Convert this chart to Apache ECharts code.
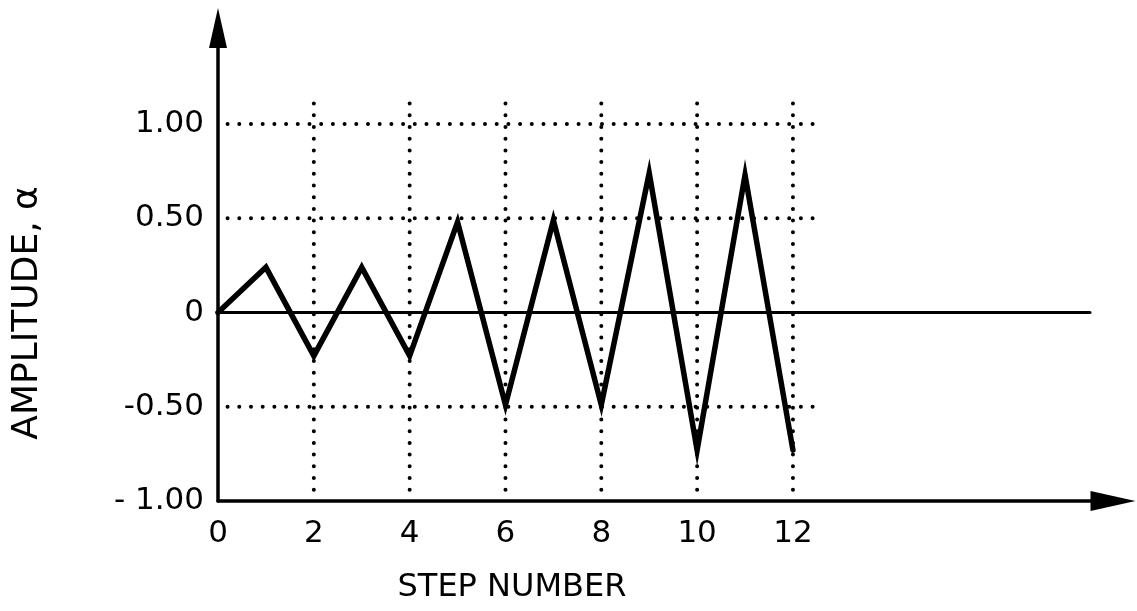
<!DOCTYPE html>
<html>
<head>
<meta charset="utf-8">
<script src="https://cdn.jsdelivr.net/npm/echarts@6/dist/echarts.min.js"></script>
<style>html,body{margin:0;padding:0;background:#fff;}#c{width:1137px;height:611px;}</style>
</head>
<body>
<div id="c"></div>
<script>
// Data
var steps = [0, 1, 2, 3, 4, 5, 6, 7, 8, 9, 10, 11, 12];
var amplitude = [0, 0.24, -0.23, 0.24, -0.23, 0.48, -0.49, 0.49, -0.49, 0.74, -0.73, 0.73, -0.73];
var xTickLabels = ['0', '2', '4', '6', '8', '10', '12'];
var xTickValues = [0, 2, 4, 6, 8, 10, 12];
var yTickValues = [-1, -0.5, 0, 0.5, 1];
var yTickLabels = ['- 1.00', '-0.50', '0', '0.50', '1.00'];
var vGridX = [2, 4, 6, 8, 10, 12];
var vGridRange = [-0.94, 1.14];
var hGridY = [1, 0.5, -0.5];
var hGridRange = [0.2, 12.45];
var zeroLineRange = [0, 18.2];

var FONT = 'DejaVu Sans';
var chart = echarts.init(document.getElementById('c'), null, {renderer: 'canvas'});

var dotted = {color: '#000', width: 4, type: [0, 11.7], cap: 'round'};
var series = [];
vGridX.forEach(function (x) {
  series.push({type: 'line', data: [[x, vGridRange[0]], [x, vGridRange[1]]], showSymbol: false, silent: true,
    lineStyle: dotted, z: 1});
});
hGridY.forEach(function (y) {
  series.push({type: 'line', data: [[hGridRange[0], y], [hGridRange[1], y]], showSymbol: false, silent: true,
    lineStyle: dotted, z: 1});
});
series.push({type: 'line', data: [[zeroLineRange[0], 0], [zeroLineRange[1], 0]], showSymbol: false, silent: true,
  lineStyle: {color: '#000', width: 3, cap: 'round'}, z: 2});
series.push({type: 'line', data: steps.map(function (s, i) { return [s, amplitude[i]]; }), showSymbol: false,
  lineStyle: {color: '#000', width: 5.5, join: 'miter', cap: 'round'}, z: 3});

chart.setOption({
  animation: false,
  backgroundColor: '#fff',
  grid: {left: 218, right: 24, top: 28, bottom: 110},
  xAxis: {
    type: 'value', min: 0, max: 18.68, interval: 2,
    axisLine: {show: true, onZero: false, symbol: ['none', 'triangle'], symbolSize: [20, 45], lineStyle: {color: '#000', width: 3.5}},
    axisTick: {show: false}, splitLine: {show: false},
    axisLabel: {
      color: '#000', fontFamily: FONT, fontSize: 31, margin: 17, showMaxLabel: false,
      formatter: function (v) { var i = xTickValues.indexOf(v); return i >= 0 ? xTickLabels[i] : ''; }
    }
  },
  yAxis: {
    type: 'value', min: -1, max: 1.51, interval: 0.5,
    axisLine: {show: true, onZero: false, symbol: ['none', 'triangle'], symbolSize: [18, 40], lineStyle: {color: '#000', width: 3.5}},
    axisTick: {show: false}, splitLine: {show: false},
    axisLabel: {
      color: '#000', fontFamily: FONT, fontSize: 31, margin: 14, showMaxLabel: false,
      formatter: function (v) {
        for (var i = 0; i < yTickValues.length; i++) { if (Math.abs(yTickValues[i] - v) < 1e-9) return yTickLabels[i]; }
        return '';
      }
    }
  },
  graphic: [
    {type: 'text', position: [512, 588], style: {text: 'STEP NUMBER', font: '32px "DejaVu Sans"', fill: '#000',
      textAlign: 'center', textVerticalAlign: 'middle'}},
    {type: 'text', rotation: Math.PI / 2, position: [28, 313], style: {text: 'AMPLITUDE, α', font: '36px "DejaVu Sans"',
      fill: '#000', textAlign: 'center', textVerticalAlign: 'middle'}}
  ],
  series: series
});
</script>
</body>
</html>
